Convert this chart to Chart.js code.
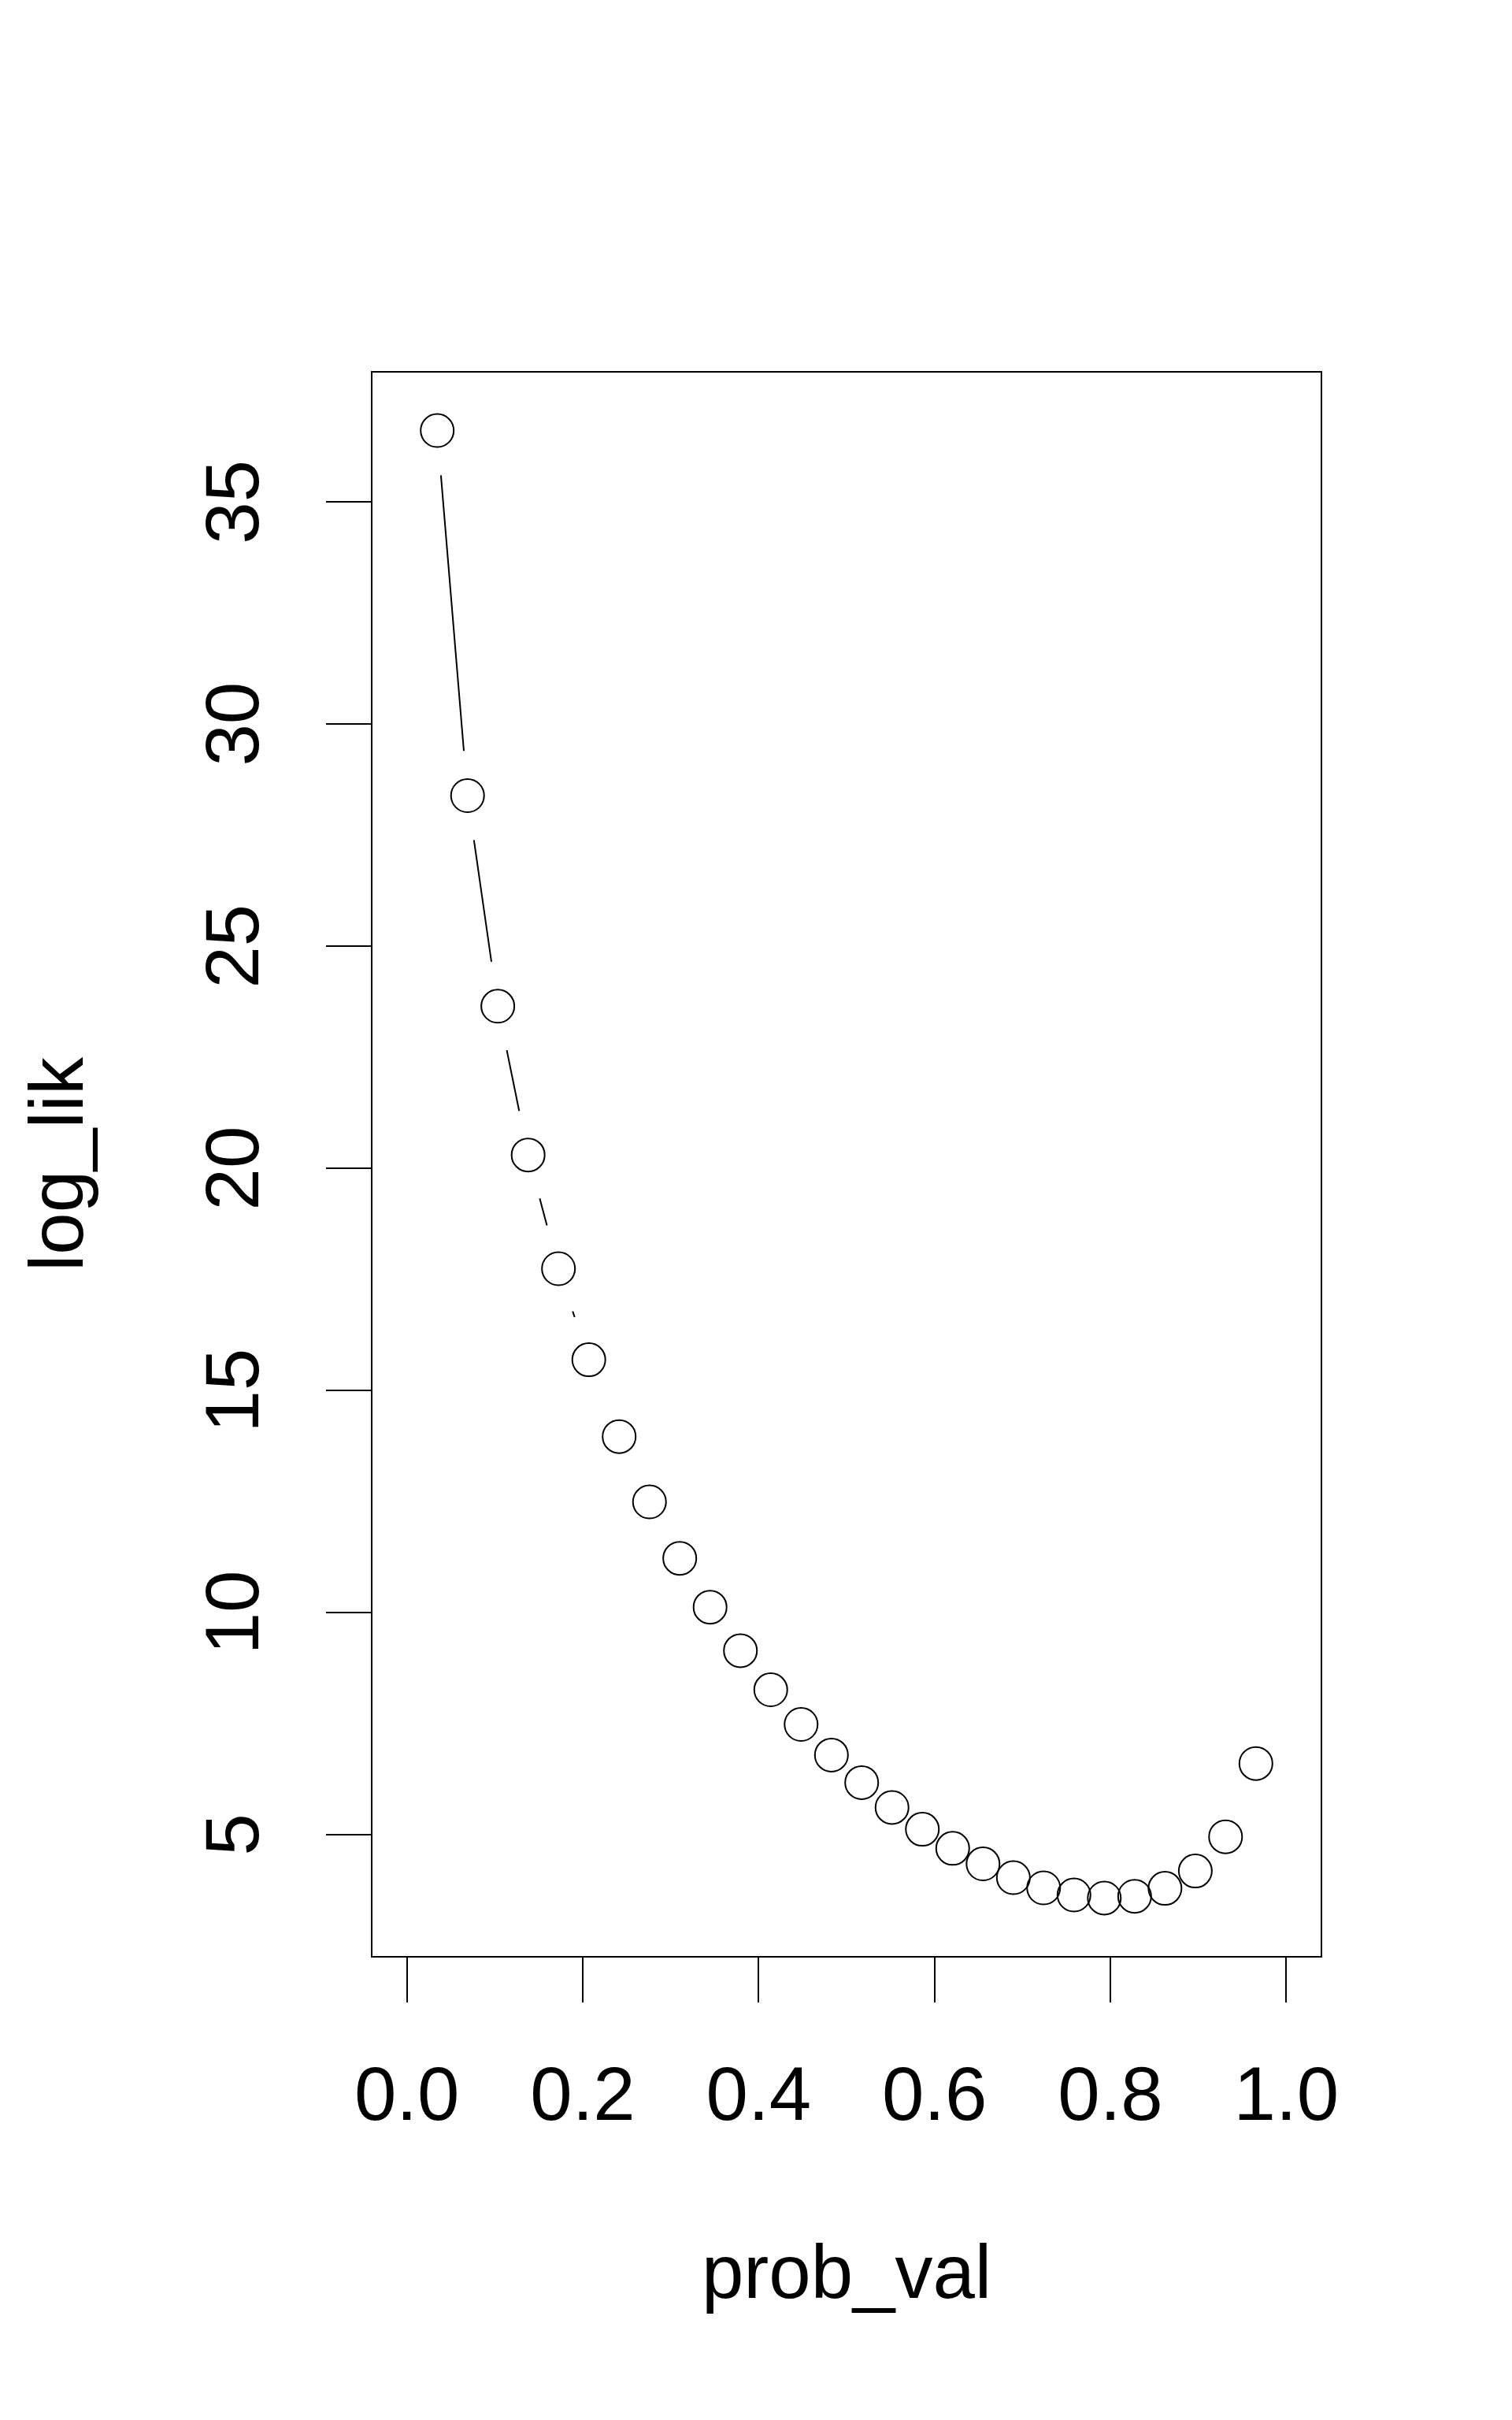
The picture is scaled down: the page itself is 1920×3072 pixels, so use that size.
<!DOCTYPE html>
<html>
<head>
<meta charset="utf-8">
<title>log_lik vs prob_val</title>
<script src="https://cdn.jsdelivr.net/npm/chart.js@4/dist/chart.umd.min.js"></script>
<style>
  html, body { margin: 0; padding: 0; background: #fff; }
  canvas { display: block; }
</style>
</head>
<body>
<canvas id="chart" width="1920" height="3072"></canvas>
<script>
// values
const probVal = [
  0.0345, 0.0690, 0.1034, 0.1379, 0.1724, 0.2069, 0.2414, 0.2759, 0.3103, 0.3448,
  0.3793, 0.4138, 0.4483, 0.4828, 0.5172, 0.5517, 0.5862, 0.6207, 0.6552, 0.6897,
  0.7241, 0.7586, 0.7931, 0.8276, 0.8621, 0.8966, 0.9310, 0.9655
];
const logLik = [
  36.61, 28.39, 23.65, 20.30, 17.74, 15.69, 13.96, 12.49, 11.22, 10.12,
  9.14, 8.26, 7.48, 6.79, 6.17, 5.61, 5.12, 4.69, 4.34, 4.03,
  3.80, 3.64, 3.57, 3.61, 3.79, 4.18, 4.95, 6.60
];
const xTicks = [0, 0.2, 0.4, 0.6, 0.8, 1.0];
const yTicks = [5, 10, 15, 20, 25, 30, 35];
const xLimits = [-0.04, 1.04];

// R style 4% range extension on y
const yLo = Math.min(...logLik), yHi = Math.max(...logLik);
const yPad = (yHi - yLo) * 0.04;

const FONT = '"Liberation Sans", Arial, Helvetica, sans-serif';
const INK = '#000000';
const LW = 2;

// box around the plot region
const boxPlugin = {
  id: 'box',
  afterDraw(chart) {
    const { ctx, chartArea: a } = chart;
    ctx.save();
    ctx.strokeStyle = INK;
    ctx.lineWidth = LW;
    ctx.strokeRect(a.left, a.top, a.right - a.left, a.bottom - a.top);
    ctx.restore();
  }
};

// type="b" lines: segments between points, cut back around each circle
const gappedLines = {
  id: 'gappedLines',
  beforeDatasetsDraw(chart) {
    const pts = chart.getDatasetMeta(0).data;
    const gap = 57;
    const { ctx } = chart;
    ctx.save();
    ctx.strokeStyle = INK;
    ctx.lineWidth = LW;
    ctx.beginPath();
    for (let i = 0; i < pts.length - 1; i++) {
      const p0 = pts[i], p1 = pts[i + 1];
      const dx = p1.x - p0.x, dy = p1.y - p0.y;
      const d = Math.hypot(dx, dy);
      if (d <= 2 * gap) continue;
      const ux = dx / d, uy = dy / d;
      ctx.moveTo(p0.x + ux * gap, p0.y + uy * gap);
      ctx.lineTo(p1.x - ux * gap, p1.y - uy * gap);
    }
    ctx.stroke();
    ctx.restore();
  }
};

const ctx = document.getElementById('chart').getContext('2d');
new Chart(ctx, {
  type: 'scatter',
  data: {
    datasets: [{
      label: 'log_lik',
      data: probVal.map((x, i) => ({ x: x, y: logLik[i] })),
      pointStyle: 'circle',
      pointRadius: 21,
      pointHoverRadius: 21,
      pointBorderWidth: LW,
      pointBorderColor: INK,
      pointBackgroundColor: 'rgba(0,0,0,0)',
      showLine: false
    }]
  },
  options: {
    responsive: false,
    devicePixelRatio: 1,
    animation: false,
    layout: { padding: { left: 0, top: 472, right: 242, bottom: 0 } },
    plugins: {
      legend: { display: false },
      tooltip: { enabled: false }
    },
    scales: {
      x: {
        type: 'linear',
        position: 'bottom',
        min: xLimits[0],
        max: xLimits[1],
        afterBuildTicks: s => { s.ticks = xTicks.map(v => ({ value: v })); },
        afterFit: s => { s.height = 588; },
        ticks: {
          color: INK,
          padding: 65,
          autoSkip: false,
          maxRotation: 0,
          font: { family: FONT, size: 96 },
          callback: v => Number(v).toFixed(1)
        },
        grid: {
          drawOnChartArea: false,
          drawTicks: true,
          tickLength: 58,
          color: INK,
          lineWidth: LW
        },
        border: { display: true, color: INK, width: LW },
        title: {
          display: true,
          text: 'prob_val',
          color: INK,
          font: { family: FONT, size: 96 },
          padding: { top: 0, bottom: 124 }
        }
      },
      y: {
        type: 'linear',
        position: 'left',
        min: yLo - yPad,
        max: yHi + yPad,
        afterBuildTicks: s => { s.ticks = yTicks.map(v => ({ value: v })); },
        afterFit: s => { s.width = 472; },
        ticks: {
          color: INK,
          padding: 59,
          autoSkip: false,
          minRotation: 90,
          maxRotation: 90,
          crossAlign: 'center',
          font: { family: FONT, size: 96 },
          callback: v => String(v)
        },
        grid: {
          drawOnChartArea: false,
          drawTicks: true,
          tickLength: 58,
          color: INK,
          lineWidth: LW
        },
        border: { display: true, color: INK, width: LW },
        title: {
          display: true,
          text: 'log_lik',
          color: INK,
          font: { family: FONT, size: 96 },
          padding: { top: 21, bottom: 0 }
        }
      }
    }
  },
  plugins: [gappedLines, boxPlugin]
});
</script>
</body>
</html>
